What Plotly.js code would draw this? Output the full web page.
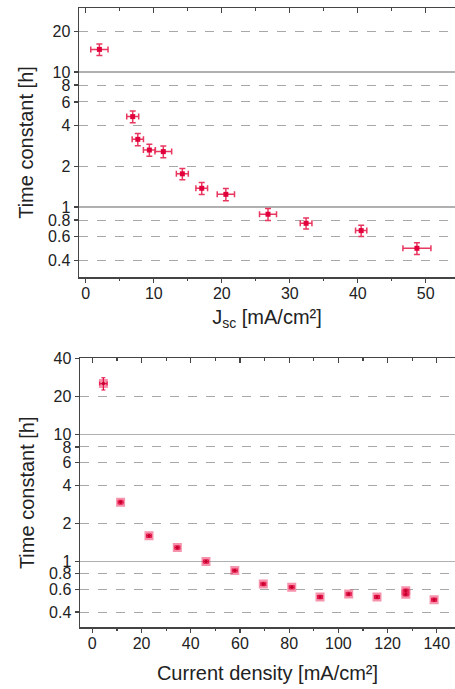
<!DOCTYPE html>
<html>
<head>
<meta charset="utf-8">
<script src="https://cdn.plot.ly/plotly-3.0.1.min.js"></script>
<style>html,body{margin:0;padding:0;background:#fff;}#chart{width:455px;height:689px;}</style>
</head>
<body>
<div id="chart"></div>
<script>
// Top panel: time constant vs Jsc
const jsc      = [2.0, 6.9, 7.65, 9.35, 11.4, 14.2, 17.05, 20.6, 26.8, 32.4, 40.5, 48.7];
const jscErr   = [1.27, 0.88, 0.83, 0.88, 1.23, 0.88, 0.86, 1.27, 1.25, 0.86, 0.83, 2.06];
const tauJsc   = [14.7, 4.67, 3.17, 2.64, 2.57, 1.76, 1.375, 1.24, 0.883, 0.757, 0.668, 0.494];
const tauJscErr= [1.45, 0.47, 0.33, 0.27, 0.26, 0.17, 0.14, 0.13, 0.09, 0.07, 0.065, 0.05];

// Bottom panel: time constant vs current density
const curDens  = [4.5, 11.5, 23.05, 34.55, 46.2, 57.9, 69.5, 81.05, 92.55, 104.2, 115.7, 127.4, 127.4, 138.9];
const curErr   = [1.5, 1.0, 1.0, 1.0, 1.0, 1.0, 1.0, 1.0, 1.0, 1.0, 1.0, 1.0, 1.0, 1.0];
const tauCur   = [25.3, 2.94, 1.60, 1.29, 1.0, 0.849, 0.667, 0.628, 0.526, 0.556, 0.526, 0.588, 0.553, 0.501];
const tauCurErr= [2.8, 0.1, 0.05, 0.04, 0.03, 0.025, 0.02, 0.02, 0.016, 0.017, 0.016, 0.018, 0.017, 0.015];

const yTickVals = [0.4, 0.6, 0.8, 1, 2, 4, 6, 8, 10, 20];
const yTickText = ['0.4', '0.6', '0.8', '1', '2', '4', '6', '8', '10', '20'];
const yTickValsB = [0.4, 0.6, 0.8, 1, 2, 4, 6, 8, 10, 20, 40];
const yTickTextB = ['0.4', '0.6', '0.8', '1', '2', '4', '6', '8', '10', '20', '40'];
const solidGrid = [1, 10];
const xTicksTop = [0, 10, 20, 30, 40, 50];
const xTicksBot = [0, 20, 40, 60, 80, 100, 120, 140];

const RED = '#e2003c';
const ERR = '#e8385f';
const AX = '#444';
const TXT = '#222';
const FONT = 'Liberation Sans, Arial, sans-serif';

const traces = [
  {
    x: jsc, y: tauJsc, xaxis: 'x', yaxis: 'y', type: 'scatter', mode: 'markers',
    marker: {symbol: 'square', size: 5, color: RED},
    error_x: {type: 'data', array: jscErr, color: ERR, thickness: 1.5, width: 3},
    error_y: {type: 'data', array: tauJscErr, color: ERR, thickness: 1.5, width: 3},
    hoverinfo: 'x+y'
  },
  {
    x: curDens, y: tauCur, xaxis: 'x2', yaxis: 'y2', type: 'scatter', mode: 'markers',
    marker: {symbol: 'square', size: 9, color: 'rgba(235,40,90,0.5)'},
    error_x: {type: 'data', array: curErr, color: RED, thickness: 1.2, width: 2},
    error_y: {type: 'data', array: tauCurErr, color: RED, thickness: 1.2, width: 2},
    hoverinfo: 'x+y'
  },
  {
    x: curDens, y: tauCur, xaxis: 'x2', yaxis: 'y2', type: 'scatter', mode: 'markers',
    marker: {symbol: 'circle', size: 3.5, color: '#c8002f'}, hoverinfo: 'skip'
  },
  // helper traces to register overlay axes (top ticks, solid reference gridlines)
  {x: [], y: [], xaxis: 'x3', yaxis: 'y3', type: 'scatter', mode: 'markers', hoverinfo: 'skip'},
  {x: [], y: [], xaxis: 'x4', yaxis: 'y4', type: 'scatter', mode: 'markers', hoverinfo: 'skip'}
];

const topDom = [1 - 277/689, 1 - 8/689];
const botDom = [1 - 627.3/689, 1 - 358.3/689];
const xDomT = [79/455, 1];
const xDomB = [80/455, 1];
const yRangeT = [-0.519, 1.474];
const yRangeB = [-0.518, 1.602];
const xRangeT = [-1, 54.3];
const xRangeB = [-5, 147.4];

function xAxis(dom, range, ticks, minorDtick, title, anchor, standoff) {
  return {
    domain: dom, range: range, anchor: anchor,
    tickmode: 'array', tickvals: ticks,
    ticks: 'outside', ticklen: 4, tickwidth: 1.2, tickcolor: AX,
    ticklabelstandoff: -3,
    minor: {dtick: minorDtick, ticks: 'outside', ticklen: 2.5, tickwidth: 1.2, tickcolor: AX, showgrid: false},
    showline: true, linecolor: AX, linewidth: 1.5,
    showgrid: false, zeroline: false,
    tickfont: {family: FONT, size: 16, color: TXT},
    title: {text: title, font: {family: FONT, size: 20, color: TXT}, standoff: standoff}
  };
}
function yAxis(dom, range, vals, text, anchor) {
  return {
    domain: dom, type: 'log', range: range, anchor: anchor,
    tickmode: 'array', tickvals: vals, ticktext: text,
    ticks: 'outside', ticklen: 4, tickwidth: 1.2, tickcolor: AX,
    showline: true, linecolor: AX, linewidth: 1.5,
    showgrid: true, gridcolor: '#a8a8a8', gridwidth: 1, griddash: 'dash',
    zeroline: false,
    tickfont: {family: FONT, size: 16, color: TXT},
    title: {text: 'Time constant [h]', font: {family: FONT, size: 20, color: TXT}, standoff: 9}
  };
}
function topTicks(dom, range, ticks, minorDtick, over, anchor) {
  return {
    domain: dom, range: range, overlaying: over, anchor: anchor, side: 'top',
    tickmode: 'array', tickvals: ticks, showticklabels: false,
    ticks: 'inside', ticklen: 5, tickwidth: 1.2, tickcolor: AX,
    minor: {dtick: minorDtick, ticks: 'inside', ticklen: 3, tickwidth: 1.2, tickcolor: AX, showgrid: false},
    showline: true, linecolor: AX, linewidth: 1.5, showgrid: false, zeroline: false
  };
}
function solidAxis(dom, range, over, anchor) {
  return {
    domain: dom, type: 'log', range: range, overlaying: over, anchor: anchor,
    tickmode: 'array', tickvals: solidGrid, showticklabels: false, ticks: '',
    showgrid: true, gridcolor: '#b0b0b0', gridwidth: 1.5, showline: false, zeroline: false
  };
}

const layout = {
  width: 455, height: 689,
  margin: {l: 0, r: 0, t: 0, b: 0},
  paper_bgcolor: '#fff', plot_bgcolor: 'rgba(0,0,0,0)',
  showlegend: false,
  xaxis: xAxis(xDomT, xRangeT, xTicksTop, 5, 'J<sub>sc</sub> [mA/cm²]', 'y', 9),
  yaxis: yAxis(topDom, yRangeT, yTickVals, yTickText, 'x'),
  xaxis2: xAxis(xDomB, xRangeB, xTicksBot, 10, 'Current density [mA/cm²]', 'y2', 15),
  yaxis2: yAxis(botDom, yRangeB, yTickValsB, yTickTextB, 'x2'),
  xaxis3: topTicks(xDomT, xRangeT, xTicksTop, 5, 'x', 'y3'),
  yaxis3: solidAxis(topDom, yRangeT, 'y', 'x3'),
  xaxis4: topTicks(xDomB, xRangeB, xTicksBot, 10, 'x2', 'y4'),
  yaxis4: solidAxis(botDom, yRangeB, 'y2', 'x4')
};

Plotly.newPlot('chart', traces, layout, {staticPlot: true, displayModeBar: false});
</script>
</body>
</html>
